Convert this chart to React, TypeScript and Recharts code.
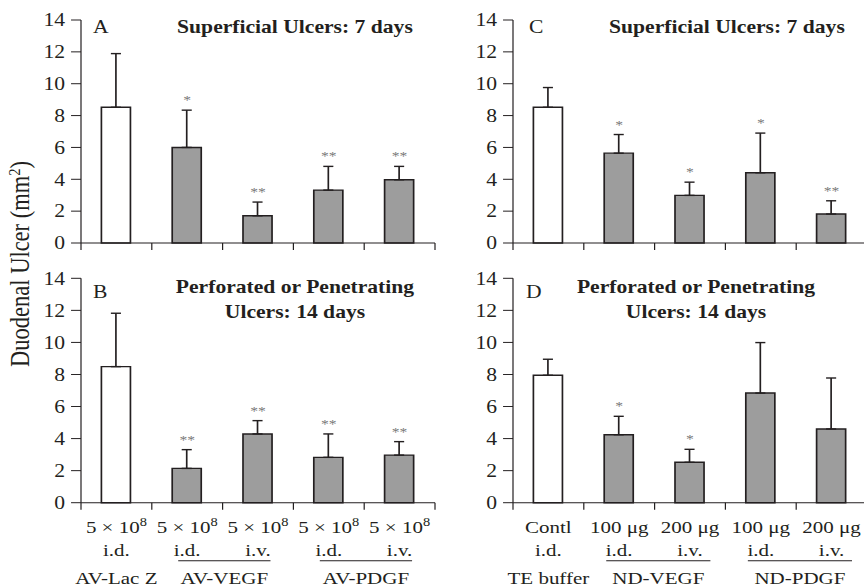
import React from 'react';
import { ComposedChart, Bar, Line, XAxis, YAxis, ErrorBar, Cell, LabelList } from 'recharts';

// the source figure is stretched sideways, so we draw narrow and scale x
const SX = 1.2;
const FONT = '"Liberation Serif", "Times New Roman", serif';
const INK = '#231f20';
const GREY = '#9d9d9d';
const PLOT_LEFT = 67.5;
const PLOT_W = 295;
const UNIT = PLOT_W / 5;

const slots = [0.5, 1.5, 2.5, 3.5, 4.5];
const yTicks = [0, 2, 4, 6, 8, 10, 12, 14];
const edgeTicks = [0, 1, 2, 3, 4, 5];

// A: superficial ulcers, 7 days, AV vectors
const ulcerA = [8.52, 6.0, 1.71, 3.32, 3.97];
const errA = [3.37, 2.34, 0.86, 1.49, 0.84];
const sigA = ['', '*', '**', '**', '**'];

// B: perforated/penetrating, 14 days, AV vectors
const ulcerB = [8.49, 2.14, 4.29, 2.83, 2.97];
const errB = [3.33, 1.17, 0.83, 1.46, 0.84];
const sigB = ['', '**', '**', '**', '**'];

// C: superficial ulcers, 7 days, ND proteins
const ulcerC = [8.52, 5.64, 2.99, 4.41, 1.82];
const errC = [1.24, 1.17, 0.83, 2.49, 0.83];
const sigC = ['', '*', '*', '*', '**'];

// D: perforated/penetrating, 14 days, ND proteins
const ulcerD = [7.95, 4.24, 2.52, 6.84, 4.6];
const errD = [1.0, 1.15, 0.81, 3.15, 3.18];
const sigD = ['', '*', '*', '', ''];

const avDose = ['5 × 10^8', '5 × 10^8', '5 × 10^8', '5 × 10^8', '5 × 10^8'];
const ndDose = ['Contl', '100 μg', '200 μg', '100 μg', '200 μg'];
const routes = ['i.d.', 'i.d.', 'i.v.', 'i.d.', 'i.v.'];
const avGroups = [
  { name: 'AV-Lac Z', from: 0, to: 0 },
  { name: 'AV-VEGF', from: 1, to: 2 },
  { name: 'AV-PDGF', from: 3, to: 4 },
];
const ndGroups = [
  { name: 'TE buffer', from: 0, to: 0 },
  { name: 'ND-VEGF', from: 1, to: 2 },
  { name: 'ND-PDGF', from: 3, to: 4 },
];

const rows = (vals: number[], errs: number[], sig: string[]) =>
  vals.map((v, i) => ({ pos: slots[i], ulcer: v, err: [0, errs[i]], top: v + errs[i], sig: sig[i] }));

const YTick = ({ y, payload }: any) => (
  <g>
    <line x1={PLOT_LEFT - 8.3} x2={PLOT_LEFT} y1={y} y2={y} stroke={INK} strokeWidth={1} />
    <text x={PLOT_LEFT - 13.3} y={y} dy="0.35em" textAnchor="end" fontFamily={FONT} fontSize={18} fill={INK}>
      {payload.value}
    </text>
  </g>
);

const XTick = (props: any) => {
  const { x, payload, axisY, dose, groups, pad } = props;
  const i = payload.value;
  const mark = <line x1={x} x2={x} y1={axisY} y2={axisY + 7} stroke={INK} strokeWidth={1} />;
  if (!dose || i >= 5) return <g>{mark}</g>;
  const cx = x + UNIT / 2;
  const [base, sup] = dose[i].split('^');
  const g = groups.find((gr: any) => gr.from === i);
  let groupEl = null;
  if (g && g.to === g.from) {
    groupEl = <text x={cx} y={axisY + 81.8} textAnchor="middle">{g.name}</text>;
  } else if (g) {
    const x1 = cx - pad[0];
    const x2 = cx + (g.to - g.from) * UNIT + pad[1];
    groupEl = (
      <g>
        <line x1={x1} x2={x2} y1={axisY + 58} y2={axisY + 58} stroke={INK} strokeWidth={1.1} />
        <text x={(x1 + x2) / 2} y={axisY + 81.8} textAnchor="middle">{g.name}</text>
      </g>
    );
  }
  return (
    <g>
      {mark}
      <g fontFamily={FONT} fontSize={17.5} fill={INK}>
        <text x={cx} y={axisY + 30.6} textAnchor="middle" style={{ whiteSpace: 'pre' }}>
          {base}
          {sup && <tspan dy={-7} fontSize={12}>{sup}</tspan>}
        </text>
        <text x={cx} y={axisY + 53.3} textAnchor="middle">{routes[i]}</text>
        {groupEl}
      </g>
    </g>
  );
};

function Panel({ left, height, plotTop, axisH, data, dose, groups, pad }: any) {
  const axisY = height - axisH;
  return (
    <div style={{ position: 'absolute', left, top: 0 }}>
      <ComposedChart width={364.5} height={height} data={data}
        margin={{ top: plotTop, right: 2, bottom: 0, left: 0 }}>
        <XAxis type="number" dataKey="pos" domain={[0, 5]} ticks={edgeTicks} interval={0}
          height={axisH} tickLine={false} tickMargin={0} stroke={INK}
          tick={<XTick axisY={axisY} dose={dose} groups={groups} pad={pad} />} />
        <YAxis type="number" domain={[0, 14]} ticks={yTicks} interval={0} width={PLOT_LEFT}
          tickLine={false} stroke={INK} tick={<YTick />} />
        <Bar dataKey="ulcer" barSize={24.2} stroke={INK} strokeWidth={1.4} isAnimationActive={false}>
          {data.map((_: any, i: number) => <Cell key={i} fill={i === 0 ? '#fff' : GREY} />)}
          <ErrorBar dataKey="err" direction="y" width={4.2} stroke={INK} strokeWidth={1.4} />
        </Bar>
        <Line dataKey="top" stroke="none" dot={false} activeDot={false} isAnimationActive={false}>
          <LabelList dataKey="sig" position="top" offset={6} fill="#7a7a7a" fontSize={13} fontFamily={FONT} />
        </Line>
      </ComposedChart>
    </div>
  );
}

export default function App() {
  return (
    <div style={{ position: 'absolute', left: 0, top: 0, width: 864, height: 588, overflow: 'hidden', background: '#fff' }}>
      <div style={{ position: 'absolute', left: 0, top: 0, width: 720, height: 588,
        transform: `scaleX(${SX})`, transformOrigin: '0 0' }}>
        <Panel left={0} height={260} plotTop={20} axisH={17} data={rows(ulcerA, errA, sigA)} />
        <Panel left={360} height={260} plotTop={20} axisH={17} data={rows(ulcerC, errC, sigC)} />
        <Panel left={0} height={588} plotTop={278.3} axisH={85.3} data={rows(ulcerB, errB, sigB)}
          dose={avDose} groups={avGroups} pad={[7.5, 10.4]} />
        <Panel left={360} height={588} plotTop={278.3} axisH={85.3} data={rows(ulcerD, errD, sigD)}
          dose={ndDose} groups={ndGroups} pad={[10.8, 17]} />
        <svg width={730} height={588} style={{ position: 'absolute', left: 0, top: 0, pointerEvents: 'none' }}
          fontFamily={FONT} fill={INK}>
          <text transform="translate(24.4,264) rotate(-90)" textAnchor="middle" fontSize={22.5}>
            Duodenal Ulcer (mm<tspan dy={-8} fontSize={14.5}>2</tspan><tspan dy={8}>)</tspan>
          </text>
          <text x={77.5} y={33.3} fontSize={18}>A</text>
          <text x={245.8} y={33.3} fontSize={18} fontWeight="bold" textAnchor="middle">Superficial Ulcers: 7 days</text>
          <text x={440.8} y={33.3} fontSize={18}>C</text>
          <text x={605.8} y={33.3} fontSize={18} fontWeight="bold" textAnchor="middle">Superficial Ulcers: 7 days</text>
          <text x={77.5} y={298.3} fontSize={18}>B</text>
          <text x={245.8} y={292.7} fontSize={18} fontWeight="bold" textAnchor="middle">Perforated or Penetrating</text>
          <text x={245.8} y={318.3} fontSize={18} fontWeight="bold" textAnchor="middle">Ulcers: 14 days</text>
          <text x={438.3} y={298.3} fontSize={18}>D</text>
          <text x={580} y={293.3} fontSize={18} fontWeight="bold" textAnchor="middle">Perforated or Penetrating</text>
          <text x={580} y={318.3} fontSize={18} fontWeight="bold" textAnchor="middle">Ulcers: 14 days</text>
        </svg>
      </div>
    </div>
  );
}
